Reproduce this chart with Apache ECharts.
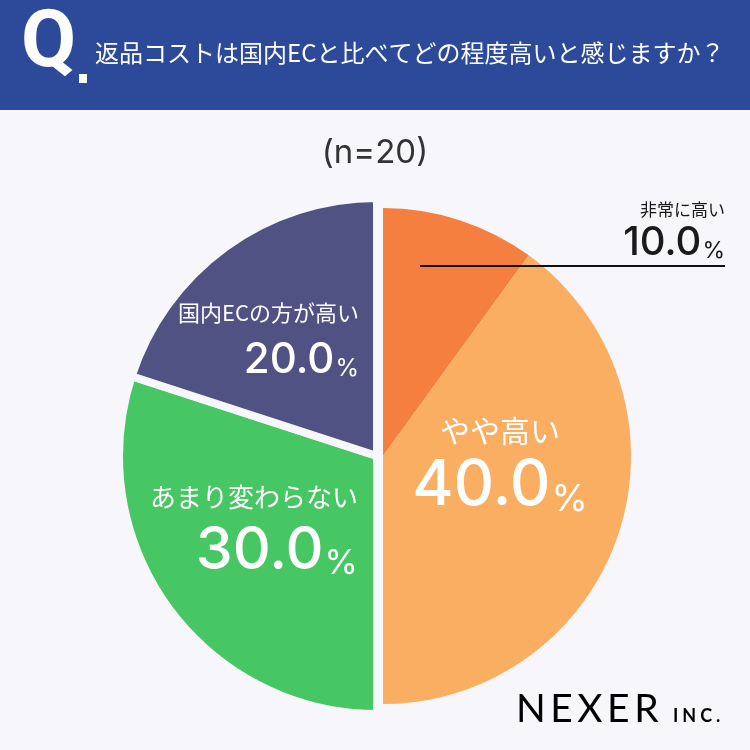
<!DOCTYPE html>
<html>
<head>
<meta charset="utf-8">
<script src="https://cdn.jsdelivr.net/npm/echarts@6/dist/echarts.min.js"></script>
<style>
  html, body { margin: 0; padding: 0; background: #f7f7fb; }
  #chart { width: 750px; height: 750px; }
</style>
</head>
<body>
<div id="chart"></div>
<script>
// 返品コスト vs 国内EC (n=20)
const categories = ['非常に高い', 'やや高い', 'あまり変わらない', '国内ECの方が高い']
const values = [10.0, 40.0, 30.0, 20.0]
const colors = ['#f47f3e', '#f9ae62', '#47c664', '#4f5283']
// which half of the split pie each slice belongs to
const side = ['right', 'right', 'left', 'left']

const JP = '"Noto Sans CJK JP", sans-serif'
const NUM = 'Inter, "Noto Sans", sans-serif'
const BG = '#f7f7fb'

// label placement per slice (top of label block)
const labelPos = [
  { x: 725, y: 198, align: 'right' },
  { x: 500, y: 411, align: 'center' },
  { x: 358, y: 479, align: 'right' },
  { x: 359, y: 298, align: 'right' }
]

// name size, number size, colour, line heights
function richFor(nameSize, numSize, color, nameLH, numLH) {
  const pctSize = Math.round(numSize * 0.58)
  // lift the % so its baseline sits on the digits' baseline
  const pad = Math.max(0, Math.round(numLH / 2 - 0.3635 * numSize - 0.242 * pctSize))
  return {
    name: { fontFamily: JP, fontSize: nameSize, color: color, lineHeight: nameLH },
    num: { fontFamily: NUM, fontSize: numSize, fontWeight: 500, color: color, lineHeight: numLH },
    pct: { fontFamily: NUM, fontSize: pctSize, fontWeight: 400, color: color, verticalAlign: 'bottom', padding: [0, 0, pad, 1] }
  }
}

const labelStyles = [
  richFor(17, 40, '#1a1a1a', 24, 42),
  richFor(30, 63, '#fff', 40, 70),
  richFor(26, 59, '#fff', 36, 72),
  richFor(22, 42, '#fff', 30, 64)
]

function sliceData(half) {
  return categories.map((name, i) => {
    const mine = side[i] === half
    return {
      name: name,
      value: values[i],
      itemStyle: mine
        ? { color: colors[i], borderColor: BG, borderWidth: half === 'left' ? 8 : 0 }
        : { color: 'rgba(0,0,0,0)', borderWidth: 0 },
      label: {
        show: mine,
        position: 'inside',
        formatter: '{name|' + name + '}\n{num|' + values[i].toFixed(1) + '}{pct|%}',
        rich: labelStyles[i]
      },
      labelLine: { show: false }
    }
  })
}

function placeLabel(params) {
  const p = labelPos[params.dataIndex]
  return { x: p.x, y: p.y, align: p.align, verticalAlign: 'top' }
}

// spaced-out logo text via rich tokens
function spaced(word, key) {
  return word.split('').map(c => '{' + key + '|' + c + '}').join('')
}

const chart = echarts.init(document.getElementById('chart'))

chart.setOption({
  backgroundColor: BG,
  animation: false,
  graphic: [
    { type: 'rect', shape: { x: 0, y: 0, width: 750, height: 110 }, style: { fill: '#2c4a99' } },
    { type: 'text', x: 21, y: 86, style: { text: 'Q', fontFamily: 'Roboto, sans-serif', fontSize: 80, fontWeight: 'bold', fill: '#fff', textVerticalAlign: 'bottom' } },
    { type: 'rect', shape: { x: 79, y: 74, width: 8, height: 9 }, style: { fill: '#fff' } },
    { type: 'text', x: 95, y: 53, style: { text: '返品コストは国内ECと比べてどの程度高いと感じますか？', fontFamily: JP, fontSize: 24, fill: '#fff', textVerticalAlign: 'middle' } },
    { type: 'text', x: 375, y: 153, style: { text: '(n=20)', fontFamily: NUM, fontSize: 33, fill: '#333', textAlign: 'center', textVerticalAlign: 'middle' } },
    // leader line for 非常に高い
    { type: 'line', z: 20, shape: { x1: 420, y1: 266, x2: 725, y2: 266 }, style: { stroke: '#111', lineWidth: 2 } },
    {
      type: 'text', x: 516, y: 709,
      style: {
        text: spaced('NEXER', 'l'),
        textVerticalAlign: 'middle',
        rich: { l: { fontFamily: 'Lato, sans-serif', fontSize: 39, color: '#16284a', padding: [0, 4.5, 0, 0] } }
      }
    },
    {
      type: 'text', x: 673, y: 716,
      style: {
        text: spaced('INC.', 's'),
        textVerticalAlign: 'middle',
        rich: { s: { fontFamily: 'Lato, sans-serif', fontSize: 18, fontWeight: 'bold', color: '#16284a', padding: [0, 4, 0, 0] } }
      }
    }
  ],
  series: [
    {
      type: 'pie',
      center: [383, 456],
      radius: [0, 248],
      startAngle: 90,
      clockwise: true,
      data: sliceData('right'),
      emphasis: { disabled: true },
      labelLayout: placeLabel
    },
    {
      type: 'pie',
      center: [377, 456],
      radius: [0, 258],
      startAngle: 90,
      clockwise: true,
      data: sliceData('left'),
      emphasis: { disabled: true },
      labelLayout: placeLabel
    }
  ]
})
</script>
</body>
</html>
